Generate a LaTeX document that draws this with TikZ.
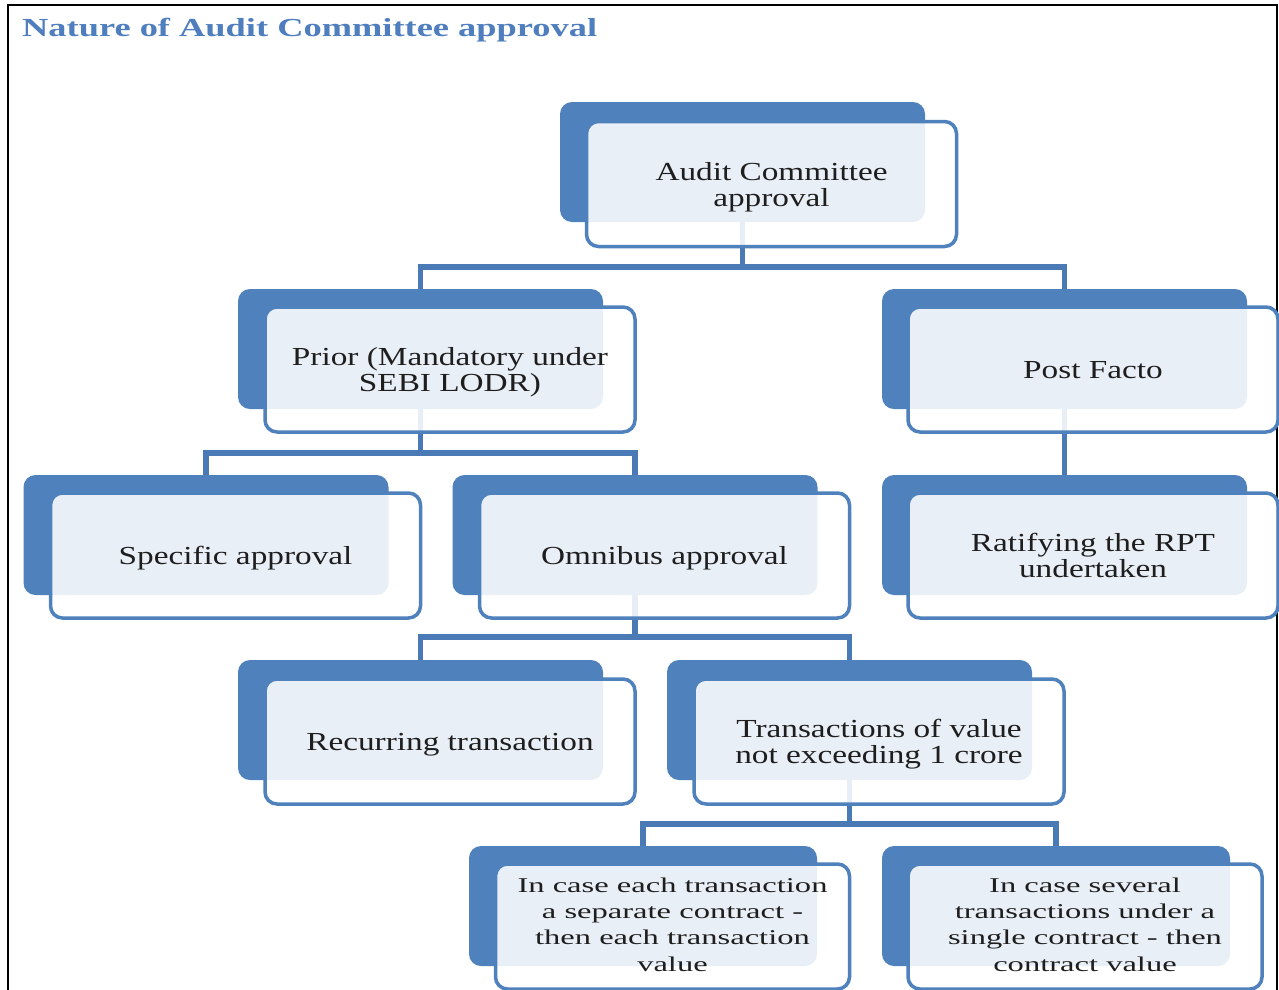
\documentclass[tikz,border=0pt]{standalone}
\usepackage{fontspec}
\setmainfont{Liberation Serif}
\usepackage{graphicx}
\usetikzlibrary{positioning}
\usetikzlibrary{backgrounds}
\definecolor{rptblue}{HTML}{4F81BD}
\definecolor{rptline}{HTML}{4A7AB5}
\definecolor{rpttext}{HTML}{1E1E1E}
\definecolor{ttlblue}{HTML}{4F7EBF}
\tikzset{
    backbox/.style = {rectangle, rounded corners=12pt, fill=rptblue, inner sep=0pt,
                      minimum width=365pt, minimum height=120pt},
    frontbox/.style = {rectangle, rounded corners=12pt, draw=rptblue, line width=3.5pt,
                       fill=white, fill opacity=0.88, text opacity=1, text=rpttext, inner sep=0pt,
                       minimum width=370pt, minimum height=125pt,
                       font=\fontsize{26}{26}\selectfont},
    backboxs/.style = {backbox, minimum width=348pt},
    frontboxs/.style = {frontbox, minimum width=354pt, font=\fontsize{21}{26.3}\selectfont},
    link/.style = {draw=rptline, line width=5.5pt},
    ttl/.style = {anchor=base west, inner sep=0pt, text=ttlblue, font=\bfseries\fontsize{26}{30}\selectfont},
    frame/.style = {draw=black, line width=1.6pt}
}
\newcommand{\Wide}[1]{\raisebox{-4pt}[\height][\depth]{\scalebox{1.28}[1]{\begin{tabular}{@{}c@{}}#1\end{tabular}}}}
\newcommand{\WideS}[1]{\scalebox{1.55}[1]{\begin{tabular}{@{}c@{}}#1\end{tabular}}}

\begin{document}
\begin{tikzpicture}[x=1pt,y=-1pt]
\useasboundingbox (0,0) rectangle (1279,989);
\clip (0,0) rectangle (1279,989);
\draw[frame] (8,1000) -- (8,5) -- (1277,5) -- (1277,1000);
\node[ttl] at (22,36) (title) {\scalebox{1.4}[1]{Nature of Audit Committee approval}};
%
\node[backbox] at (742.5,162) (acB) {};
\node[frontbox] at (771.5,184) (ac) {\Wide{Audit Committee\\approval}};
\node[backbox] at (420.5,349) (prB) {};
\node[frontbox] at (450,369.5) (pr) {\Wide{Prior (Mandatory under\\SEBI LODR)}};
\node[backbox] at (1064.5,349) (pfB) {};
\node[frontbox] at (1093,369.5) (pf) {\Wide{Post Facto}};
\node[backbox] at (206,535) (spB) {};
\node[frontbox] at (235.5,555.5) (sp) {\Wide{Specific approval}};
\node[backbox] at (635,535) (omB) {};
\node[frontbox] at (664.5,555.5) (om) {\Wide{Omnibus approval}};
\node[backbox] at (1064.5,535) (raB) {};
\node[frontbox] at (1093,555.5) (ra) {\Wide{Ratifying the RPT\\undertaken}};
\node[backbox] at (420.5,720) (reB) {};
\node[frontbox] at (450,741.5) (re) {\Wide{Recurring transaction}};
\node[backbox] at (849.5,720) (trB) {};
\node[frontbox] at (879,741.5) (tr) {\Wide{Transactions of value\\not exceeding 1 crore}};
\node[backboxs] at (643,906) (ceB) {};
\node[frontboxs] at (672.5,926.5) (ce) {\WideS{In case each transaction\\a separate contract -\\then each transaction\\value}};
\node[backboxs] at (1056,906) (csB) {};
\node[frontboxs] at (1085,926.5) (cs) {\WideS{In case several\\transactions under a\\single contract - then\\contract value}};
%
\begin{pgfonlayer}{background}
\fill[white] (0,0) rectangle (1279,989);
\draw[link] (acB.south) -- ++(0,45) -| (prB.north);
\draw[link] (acB.south) -- ++(0,45) -| (pfB.north);
\draw[link] (prB.south) -- ++(0,44) -| (spB.north);
\draw[link] (prB.south) -- ++(0,44) -| (omB.north);
\draw[link] (pfB.south) -- (raB.north);
\draw[link] (omB.south) -- ++(0,42) -| (reB.north);
\draw[link] (omB.south) -- ++(0,42) -| (trB.north);
\draw[link] (trB.south) -- ++(0,44) -| (ceB.north);
\draw[link] (trB.south) -- ++(0,44) -| (csB.north);
\end{pgfonlayer}

\end{tikzpicture}
\end{document}
